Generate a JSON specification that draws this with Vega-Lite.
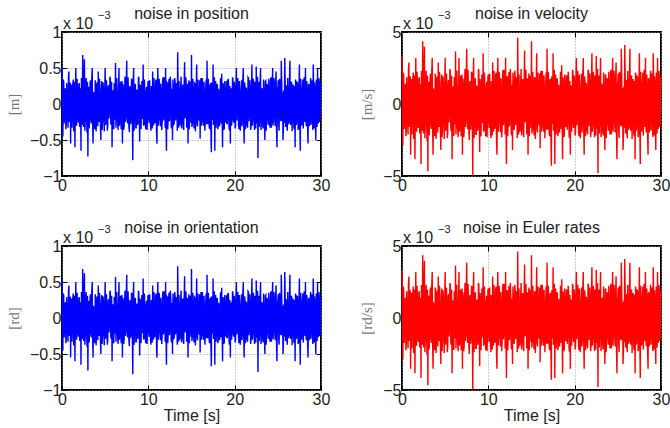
{
"$schema": "https://vega.github.io/schema/vega-lite/v6.json",
"padding": {"left": 5, "top": 5, "right": 5, "bottom": 5},
"background": "white",
"config": {
 "view": {"stroke": "black", "strokeWidth": 2},
 "title": {"font": "Liberation Sans", "fontSize": 16, "fontWeight": "normal", "color": "#222", "offset": -12},
 "axis": {"domain": false, "tickSize": -5, "tickColor": "black", "tickWidth": 1, "labelFont": "Liberation Sans", "labelFontSize": 16, "labelColor": "#222", "labelPadding": 6, "labelFlush": false, "gridDash": [1, 2], "gridColor": "#999", "gridWidth": 1},
 "axisY": {"titleFont": "Liberation Serif", "titleFontSize": 15, "titleFontWeight": "normal", "titleColor": "#777", "titlePadding": 8},
 "axisX": {"titleFont": "Liberation Sans", "titleFontSize": 16, "titleFontWeight": "normal", "titleColor": "#222", "titlePadding": 0}
},
"data": {"values": [
{"t":0,"p":0.52,"v":3.33},{"t":0.1,"p":-0.45,"v":-2.88},{"t":0.2,"p":0.31,"v":1.98},{"t":0.3,"p":-0.12,"v":-0.77},{"t":0.4,"p":0.22,"v":1.41},{"t":0.5,"p":-0.28,"v":-1.79},{"t":0.6,"p":0.08,"v":0.51},{"t":0.7,"p":-0.33,"v":-2.11},{"t":0.8,"p":0.45,"v":2.88},{"t":0.9,"p":-0.18,"v":-1.15},
{"t":1,"p":-0.55,"v":-3.52},{"t":1.1,"p":0.27,"v":1.73},{"t":1.2,"p":-0.09,"v":-0.58},{"t":1.3,"p":0.34,"v":2.18},{"t":1.4,"p":-0.22,"v":-1.41},{"t":1.5,"p":-0.6,"v":-3.84},{"t":1.6,"p":0.5,"v":3.2},{"t":1.7,"p":-0.3,"v":-1.92},{"t":1.8,"p":0.15,"v":0.96},{"t":1.9,"p":-0.26,"v":-1.66},
{"t":2,"p":0.29,"v":1.86},{"t":2.1,"p":-0.07,"v":-0.45},{"t":2.2,"p":-0.65,"v":-4.16},{"t":2.3,"p":0.18,"v":1.15},{"t":2.4,"p":0.68,"v":4.35},{"t":2.5,"p":-0.32,"v":-2.05},{"t":2.6,"p":0.62,"v":3.97},{"t":2.7,"p":-0.21,"v":-1.34},{"t":2.8,"p":0.36,"v":2.3},{"t":2.9,"p":-0.4,"v":-2.56},
{"t":3,"p":-0.73,"v":-4.67},{"t":3.1,"p":0.24,"v":1.54},{"t":3.2,"p":-0.14,"v":-0.9},{"t":3.3,"p":0.33,"v":2.11},{"t":3.4,"p":-0.27,"v":-1.73},{"t":3.5,"p":0.5,"v":3.2},{"t":3.6,"p":-0.55,"v":-3.52},{"t":3.7,"p":0.11,"v":0.7},{"t":3.8,"p":-0.35,"v":-2.24},{"t":3.9,"p":0.28,"v":1.79},
{"t":4,"p":-0.19,"v":-1.22},{"t":4.1,"p":0.3,"v":1.92},{"t":4.2,"p":0.45,"v":2.88},{"t":4.3,"p":-0.25,"v":-1.6},{"t":4.4,"p":0.06,"v":0.38},{"t":4.5,"p":-0.5,"v":-3.2},{"t":4.6,"p":0.32,"v":2.05},{"t":4.7,"p":-0.16,"v":-1.02},{"t":4.8,"p":0.21,"v":1.34},{"t":4.9,"p":-0.38,"v":-2.43},
{"t":5,"p":0.5,"v":3.2},{"t":5.1,"p":-0.23,"v":-1.47},{"t":5.2,"p":0.14,"v":0.9},{"t":5.3,"p":-0.31,"v":-1.98},{"t":5.4,"p":0.26,"v":1.66},{"t":5.5,"p":-0.08,"v":-0.51},{"t":5.6,"p":0.35,"v":2.24},{"t":5.7,"p":-0.29,"v":-1.86},{"t":5.8,"p":-0.6,"v":-3.84},{"t":5.9,"p":0.19,"v":1.22},
{"t":6,"p":-0.34,"v":-2.18},{"t":6.1,"p":0.27,"v":1.73},{"t":6.2,"p":0.57,"v":3.65},{"t":6.3,"p":-0.17,"v":-1.09},{"t":6.4,"p":0.09,"v":0.58},{"t":6.5,"p":-0.36,"v":-2.3},{"t":6.6,"p":0.5,"v":3.2},{"t":6.7,"p":-0.24,"v":-1.54},{"t":6.8,"p":0.31,"v":1.98},{"t":6.9,"p":-0.12,"v":-0.77},
{"t":7,"p":-0.55,"v":-3.52},{"t":7.1,"p":0.22,"v":1.41},{"t":7.2,"p":-0.3,"v":-1.92},{"t":7.3,"p":0.38,"v":2.43},{"t":7.4,"p":-0.15,"v":-0.96},{"t":7.5,"p":0.6,"v":3.84},{"t":7.6,"p":-0.27,"v":-1.73},{"t":7.7,"p":0.13,"v":0.83},{"t":7.8,"p":-0.39,"v":-2.5},{"t":7.9,"p":0.25,"v":1.6},
{"t":8,"p":-0.21,"v":-1.34},{"t":8.1,"p":0.33,"v":2.11},{"t":8.2,"p":-0.78,"v":-4.99},{"t":8.3,"p":0.5,"v":3.2},{"t":8.4,"p":-0.1,"v":-0.64},{"t":8.5,"p":0.28,"v":1.79},{"t":8.6,"p":-0.33,"v":-2.11},{"t":8.7,"p":0.17,"v":1.09},{"t":8.8,"p":-0.26,"v":-1.66},{"t":8.9,"p":0.36,"v":2.3},
{"t":9,"p":-0.52,"v":-3.33},{"t":9.1,"p":0.2,"v":1.28},{"t":9.2,"p":-0.13,"v":-0.83},{"t":9.3,"p":0.3,"v":1.92},{"t":9.4,"p":0.55,"v":3.52},{"t":9.5,"p":-0.28,"v":-1.79},{"t":9.6,"p":0.07,"v":0.45},{"t":9.7,"p":-0.35,"v":-2.24},{"t":9.8,"p":0.24,"v":1.54},{"t":9.9,"p":-0.19,"v":-1.22},
{"t":10,"p":0.32,"v":2.05},{"t":10.1,"p":-0.26,"v":-1.66},{"t":10.2,"p":0.12,"v":0.77},{"t":10.3,"p":-0.37,"v":-2.37},{"t":10.4,"p":0.21,"v":1.34},{"t":10.5,"p":0.45,"v":2.88},{"t":10.6,"p":-0.3,"v":-1.92},{"t":10.7,"p":0.16,"v":1.02},{"t":10.8,"p":-0.22,"v":-1.41},{"t":10.9,"p":0.34,"v":2.18},
{"t":11,"p":-0.55,"v":-3.52},{"t":11.1,"p":0.5,"v":3.2},{"t":11.2,"p":-0.18,"v":-1.15},{"t":11.3,"p":0.27,"v":1.73},{"t":11.4,"p":-0.31,"v":-1.98},{"t":11.5,"p":0.09,"v":0.58},{"t":11.6,"p":-0.25,"v":-1.6},{"t":11.7,"p":0.37,"v":2.37},{"t":11.8,"p":-0.14,"v":-0.9},{"t":11.9,"p":0.23,"v":1.47},
{"t":12,"p":0.5,"v":3.2},{"t":12.1,"p":-0.65,"v":-4.16},{"t":12.2,"p":0.29,"v":1.86},{"t":12.3,"p":-0.2,"v":-1.28},{"t":12.4,"p":0.35,"v":2.24},{"t":12.5,"p":-0.11,"v":-0.7},{"t":12.6,"p":0.26,"v":1.66},{"t":12.7,"p":-0.34,"v":-2.18},{"t":12.8,"p":-0.5,"v":-3.2},{"t":12.9,"p":0.18,"v":1.15},
{"t":13,"p":-0.27,"v":-1.73},{"t":13.1,"p":0.31,"v":1.98},{"t":13.2,"p":-0.16,"v":-1.02},{"t":13.3,"p":0.24,"v":1.54},{"t":13.4,"p":0.72,"v":4.61},{"t":13.5,"p":-0.33,"v":-2.11},{"t":13.6,"p":0.1,"v":0.64},{"t":13.7,"p":-0.24,"v":-1.54},{"t":13.8,"p":0.38,"v":2.43},{"t":13.9,"p":-0.21,"v":-1.34},
{"t":14,"p":0.27,"v":1.73},{"t":14.1,"p":-0.36,"v":-2.3},{"t":14.2,"p":0.58,"v":3.71},{"t":14.3,"p":-0.13,"v":-0.83},{"t":14.4,"p":0.22,"v":1.41},{"t":14.5,"p":-0.29,"v":-1.86},{"t":14.6,"p":-0.55,"v":-3.52},{"t":14.7,"p":0.33,"v":2.11},{"t":14.8,"p":-0.08,"v":-0.51},{"t":14.9,"p":0.3,"v":1.92},
{"t":15,"p":0.68,"v":4.35},{"t":15.1,"p":-0.26,"v":-1.66},{"t":15.2,"p":0.15,"v":0.96},{"t":15.3,"p":-0.34,"v":-2.18},{"t":15.4,"p":0.28,"v":1.79},{"t":15.5,"p":-0.19,"v":-1.22},{"t":15.6,"p":0.55,"v":3.52},{"t":15.7,"p":-0.31,"v":-1.98},{"t":15.8,"p":0.12,"v":0.77},{"t":15.9,"p":-0.23,"v":-1.47},
{"t":16,"p":-0.48,"v":-3.07},{"t":16.1,"p":0.36,"v":2.3},{"t":16.2,"p":-0.17,"v":-1.09},{"t":16.3,"p":0.25,"v":1.6},{"t":16.4,"p":-0.3,"v":-1.92},{"t":16.5,"p":0.08,"v":0.51},{"t":16.6,"p":-0.22,"v":-1.41},{"t":16.7,"p":0.34,"v":2.18},{"t":16.8,"p":0.6,"v":3.84},{"t":16.9,"p":-0.28,"v":-1.79},
{"t":17,"p":0.19,"v":1.22},{"t":17.1,"p":-0.35,"v":-2.24},{"t":17.2,"p":0.27,"v":1.73},{"t":17.3,"p":-0.67,"v":-4.29},{"t":17.4,"p":0.13,"v":0.83},{"t":17.5,"p":0.55,"v":3.52},{"t":17.6,"p":-0.24,"v":-1.54},{"t":17.7,"p":-0.65,"v":-4.16},{"t":17.8,"p":0.32,"v":2.05},{"t":17.9,"p":-0.15,"v":-0.96},
{"t":18,"p":0.26,"v":1.66},{"t":18.1,"p":-0.3,"v":-1.92},{"t":18.2,"p":0.1,"v":0.64},{"t":18.3,"p":-0.21,"v":-1.34},{"t":18.4,"p":0.35,"v":2.24},{"t":18.5,"p":0.42,"v":2.69},{"t":18.6,"p":-0.6,"v":-3.84},{"t":18.7,"p":0.23,"v":1.47},{"t":18.8,"p":-0.33,"v":-2.11},{"t":18.9,"p":0.16,"v":1.02},
{"t":19,"p":-0.25,"v":-1.6},{"t":19.1,"p":0.31,"v":1.98},{"t":19.2,"p":-0.12,"v":-0.77},{"t":19.3,"p":0.28,"v":1.79},{"t":19.4,"p":-0.37,"v":-2.37},{"t":19.5,"p":-0.55,"v":-3.52},{"t":19.6,"p":0.2,"v":1.28},{"t":19.7,"p":-0.17,"v":-1.09},{"t":19.8,"p":0.34,"v":2.18},{"t":19.9,"p":-0.26,"v":-1.66},
{"t":20,"p":0.22,"v":1.41},{"t":20.1,"p":-0.31,"v":-1.98},{"t":20.2,"p":0.5,"v":3.2},{"t":20.3,"p":-0.14,"v":-0.9},{"t":20.4,"p":0.27,"v":1.73},{"t":20.5,"p":-0.35,"v":-2.24},{"t":20.6,"p":0.09,"v":0.58},{"t":20.7,"p":-0.23,"v":-1.47},{"t":20.8,"p":0.33,"v":2.11},{"t":20.9,"p":-0.19,"v":-1.22},
{"t":21,"p":0.5,"v":3.2},{"t":21.1,"p":-0.55,"v":-3.52},{"t":21.2,"p":0.24,"v":1.54},{"t":21.3,"p":-0.28,"v":-1.79},{"t":21.4,"p":0.14,"v":0.9},{"t":21.5,"p":-0.33,"v":-2.11},{"t":21.6,"p":0.36,"v":2.3},{"t":21.7,"p":-0.11,"v":-0.7},{"t":21.8,"p":0.21,"v":1.34},{"t":21.9,"p":-0.3,"v":-1.92},
{"t":22,"p":0.55,"v":3.52},{"t":22.1,"p":-0.2,"v":-1.28},{"t":22.2,"p":0.29,"v":1.86},{"t":22.3,"p":-0.36,"v":-2.3},{"t":22.4,"p":0.17,"v":1.09},{"t":22.5,"p":0.52,"v":3.33},{"t":22.6,"p":-0.25,"v":-1.6},{"t":22.7,"p":-0.75,"v":-4.8},{"t":22.8,"p":0.31,"v":1.98},{"t":22.9,"p":-0.13,"v":-0.83},
{"t":23,"p":0.5,"v":3.2},{"t":23.1,"p":-0.27,"v":-1.73},{"t":23.2,"p":0.2,"v":1.28},{"t":23.3,"p":-0.34,"v":-2.18},{"t":23.4,"p":0.11,"v":0.7},{"t":23.5,"p":-0.5,"v":-3.2},{"t":23.6,"p":0.32,"v":2.05},{"t":23.7,"p":-0.18,"v":-1.15},{"t":23.8,"p":0.26,"v":1.66},{"t":23.9,"p":-0.29,"v":-1.86},
{"t":24,"p":0.15,"v":0.96},{"t":24.1,"p":-0.33,"v":-2.11},{"t":24.2,"p":0.37,"v":2.37},{"t":24.3,"p":-0.21,"v":-1.34},{"t":24.4,"p":0.5,"v":3.2},{"t":24.5,"p":-0.12,"v":-0.77},{"t":24.6,"p":0.28,"v":1.79},{"t":24.7,"p":-0.31,"v":-1.98},{"t":24.8,"p":0.45,"v":2.88},{"t":24.9,"p":-0.6,"v":-3.84},
{"t":25,"p":0.23,"v":1.47},{"t":25.1,"p":-0.28,"v":-1.79},{"t":25.2,"p":0.35,"v":2.24},{"t":25.3,"p":-0.16,"v":-1.02},{"t":25.4,"p":0.6,"v":3.84},{"t":25.5,"p":-0.24,"v":-1.54},{"t":25.6,"p":-0.5,"v":-3.2},{"t":25.7,"p":0.19,"v":1.22},{"t":25.8,"p":0.64,"v":4.1},{"t":25.9,"p":-0.32,"v":-2.05},
{"t":26,"p":0.26,"v":1.66},{"t":26.1,"p":-0.37,"v":-2.37},{"t":26.2,"p":0.13,"v":0.83},{"t":26.3,"p":-0.22,"v":-1.41},{"t":26.4,"p":0.6,"v":3.84},{"t":26.5,"p":-0.29,"v":-1.86},{"t":26.6,"p":0.31,"v":1.98},{"t":26.7,"p":-0.09,"v":-0.58},{"t":26.8,"p":0.24,"v":1.54},{"t":26.9,"p":-0.35,"v":-2.24},
{"t":27,"p":-0.6,"v":-3.84},{"t":27.1,"p":0.3,"v":1.92},{"t":27.2,"p":-0.18,"v":-1.15},{"t":27.3,"p":0.27,"v":1.73},{"t":27.4,"p":-0.33,"v":-2.11},{"t":27.5,"p":0.55,"v":3.52},{"t":27.6,"p":-0.65,"v":-4.16},{"t":27.7,"p":0.21,"v":1.34},{"t":27.8,"p":-0.26,"v":-1.66},{"t":27.9,"p":0.34,"v":2.18},
{"t":28,"p":-0.14,"v":-0.9},{"t":28.1,"p":0.29,"v":1.86},{"t":28.2,"p":0.5,"v":3.2},{"t":28.3,"p":-0.31,"v":-1.98},{"t":28.4,"p":0.17,"v":1.09},{"t":28.5,"p":-0.55,"v":-3.52},{"t":28.6,"p":0.25,"v":1.6},{"t":28.7,"p":-0.22,"v":-1.41},{"t":28.8,"p":0.36,"v":2.3},{"t":28.9,"p":-0.1,"v":-0.64},
{"t":29,"p":0.28,"v":1.79},{"t":29.1,"p":0.55,"v":3.52},{"t":29.2,"p":-0.34,"v":-2.18},{"t":29.3,"p":0.19,"v":1.22},{"t":29.4,"p":-0.5,"v":-3.2},{"t":29.5,"p":0.23,"v":1.47},{"t":29.6,"p":0.5,"v":3.2},{"t":29.7,"p":-0.27,"v":-1.73},{"t":29.8,"p":0.31,"v":1.98},{"t":29.9,"p":-0.2,"v":-1.28},
{"t":30,"p":0.3,"v":1.92},
{"t":0.05,"p":-0.21,"v":-1.34},{"t":0.15,"p":0.34,"v":2.18},{"t":0.25,"p":-0.27,"v":-1.73},{"t":0.35,"p":0.18,"v":1.15},{"t":0.45,"p":-0.35,"v":-2.24},{"t":0.55,"p":0.29,"v":1.86},{"t":0.65,"p":-0.16,"v":-1.02},{"t":0.75,"p":0.37,"v":2.37},{"t":0.85,"p":-0.25,"v":-1.6},{"t":0.95,"p":0.3,"v":1.92},
{"t":1.05,"p":0.19,"v":1.22},{"t":1.15,"p":-0.33,"v":-2.11},{"t":1.25,"p":0.26,"v":1.66},{"t":1.35,"p":-0.38,"v":-2.43},{"t":1.45,"p":0.31,"v":1.98},{"t":1.55,"p":0.14,"v":0.9},{"t":1.65,"p":-0.28,"v":-1.79},{"t":1.75,"p":0.35,"v":2.24},{"t":1.85,"p":-0.2,"v":-1.28},{"t":1.95,"p":0.27,"v":1.73},
{"t":2.05,"p":-0.32,"v":-2.05},{"t":2.15,"p":0.22,"v":1.41},{"t":2.25,"p":0.36,"v":2.3},{"t":2.35,"p":-0.29,"v":-1.86},{"t":2.45,"p":-0.15,"v":-0.96},{"t":2.55,"p":0.33,"v":2.11},{"t":2.65,"p":-0.37,"v":-2.37},{"t":2.75,"p":0.25,"v":1.6},{"t":2.85,"p":-0.18,"v":-1.15},{"t":2.95,"p":0.31,"v":1.98},
{"t":3.05,"p":0.2,"v":1.28},{"t":3.15,"p":-0.34,"v":-2.18},{"t":3.25,"p":0.28,"v":1.79},{"t":3.35,"p":-0.23,"v":-1.47},{"t":3.45,"p":0.36,"v":2.3},{"t":3.55,"p":-0.3,"v":-1.92},{"t":3.65,"p":0.17,"v":1.09},{"t":3.75,"p":-0.27,"v":-1.73},{"t":3.85,"p":0.33,"v":2.11},{"t":3.95,"p":-0.38,"v":-2.43},
{"t":4.05,"p":0.26,"v":1.66},{"t":4.15,"p":-0.31,"v":-1.98},{"t":4.25,"p":-0.14,"v":-0.9},{"t":4.35,"p":0.35,"v":2.24},{"t":4.45,"p":-0.28,"v":-1.79},{"t":4.55,"p":0.22,"v":1.41},{"t":4.65,"p":-0.36,"v":-2.3},{"t":4.75,"p":0.3,"v":1.92},{"t":4.85,"p":-0.24,"v":-1.54},{"t":4.95,"p":0.19,"v":1.22},
{"t":5.05,"p":-0.29,"v":-1.86},{"t":5.15,"p":0.33,"v":2.11},{"t":5.25,"p":-0.37,"v":-2.37},{"t":5.35,"p":0.24,"v":1.54},{"t":5.45,"p":-0.2,"v":-1.28},{"t":5.55,"p":0.38,"v":2.43},{"t":5.65,"p":-0.26,"v":-1.66},{"t":5.75,"p":0.31,"v":1.98},{"t":5.85,"p":0.15,"v":0.96},{"t":5.95,"p":-0.34,"v":-2.18},
{"t":6.05,"p":0.29,"v":1.86},{"t":6.15,"p":-0.22,"v":-1.41},{"t":6.25,"p":-0.33,"v":-2.11},{"t":6.35,"p":0.36,"v":2.3},{"t":6.45,"p":-0.27,"v":-1.73},{"t":6.55,"p":0.18,"v":1.15},{"t":6.65,"p":-0.3,"v":-1.92},{"t":6.75,"p":0.25,"v":1.6},{"t":6.85,"p":-0.35,"v":-2.24},{"t":6.95,"p":0.32,"v":2.05},
{"t":7.05,"p":0.28,"v":1.79},{"t":7.15,"p":-0.36,"v":-2.3},{"t":7.25,"p":0.21,"v":1.34},{"t":7.35,"p":-0.25,"v":-1.6},{"t":7.45,"p":0.34,"v":2.18},{"t":7.55,"p":-0.19,"v":-1.22},{"t":7.65,"p":0.37,"v":2.37},{"t":7.75,"p":-0.31,"v":-1.98},{"t":7.85,"p":0.23,"v":1.47},{"t":7.95,"p":-0.28,"v":-1.79},
{"t":8.05,"p":0.35,"v":2.24},{"t":8.15,"p":-0.24,"v":-1.54},{"t":8.25,"p":0.3,"v":1.92},{"t":8.35,"p":-0.37,"v":-2.37},{"t":8.45,"p":0.26,"v":1.66},{"t":8.55,"p":-0.33,"v":-2.11},{"t":8.65,"p":0.2,"v":1.28},{"t":8.75,"p":-0.29,"v":-1.86},{"t":8.85,"p":0.38,"v":2.43},{"t":8.95,"p":-0.17,"v":-1.09},
{"t":9.05,"p":0.27,"v":1.73},{"t":9.15,"p":-0.35,"v":-2.24},{"t":9.25,"p":0.32,"v":2.05},{"t":9.35,"p":-0.21,"v":-1.34},{"t":9.45,"p":-0.3,"v":-1.92},{"t":9.55,"p":0.34,"v":2.18},{"t":9.65,"p":-0.26,"v":-1.66},{"t":9.75,"p":0.19,"v":1.22},{"t":9.85,"p":-0.36,"v":-2.3},{"t":9.95,"p":0.29,"v":1.86},
{"t":10.05,"p":-0.18,"v":-1.15},{"t":10.15,"p":0.33,"v":2.11},{"t":10.25,"p":-0.29,"v":-1.86},{"t":10.35,"p":0.25,"v":1.6},{"t":10.45,"p":-0.34,"v":-2.18},{"t":10.55,"p":-0.22,"v":-1.41},{"t":10.65,"p":0.36,"v":2.3},{"t":10.75,"p":-0.27,"v":-1.73},{"t":10.85,"p":0.31,"v":1.98},{"t":10.95,"p":-0.39,"v":-2.5},
{"t":11.05,"p":0.24,"v":1.54},{"t":11.15,"p":-0.3,"v":-1.92},{"t":11.25,"p":0.35,"v":2.24},{"t":11.35,"p":-0.2,"v":-1.28},{"t":11.45,"p":0.28,"v":1.79},{"t":11.55,"p":-0.36,"v":-2.3},{"t":11.65,"p":0.32,"v":2.05},{"t":11.75,"p":-0.23,"v":-1.47},{"t":11.85,"p":0.37,"v":2.37},{"t":11.95,"p":-0.33,"v":-2.11},
{"t":12.05,"p":-0.26,"v":-1.66},{"t":12.15,"p":0.3,"v":1.92},{"t":12.25,"p":-0.35,"v":-2.24},{"t":12.35,"p":0.27,"v":1.73},{"t":12.45,"p":-0.24,"v":-1.54},{"t":12.55,"p":0.38,"v":2.43},{"t":12.65,"p":-0.31,"v":-1.98},{"t":12.75,"p":0.21,"v":1.34},{"t":12.85,"p":0.34,"v":2.18},{"t":12.95,"p":-0.28,"v":-1.79},
{"t":13.05,"p":0.36,"v":2.3},{"t":13.15,"p":-0.23,"v":-1.47},{"t":13.25,"p":0.29,"v":1.86},{"t":13.35,"p":-0.37,"v":-2.37},{"t":13.45,"p":0.16,"v":1.02},{"t":13.55,"p":0.32,"v":2.05},{"t":13.65,"p":-0.3,"v":-1.92},{"t":13.75,"p":0.26,"v":1.66},{"t":13.85,"p":-0.34,"v":-2.18},{"t":13.95,"p":0.22,"v":1.41},
{"t":14.05,"p":-0.31,"v":-1.98},{"t":14.15,"p":0.25,"v":1.6},{"t":14.25,"p":-0.2,"v":-1.28},{"t":14.35,"p":0.37,"v":2.37},{"t":14.45,"p":-0.33,"v":-2.11},{"t":14.55,"p":0.28,"v":1.79},{"t":14.65,"p":0.18,"v":1.15},{"t":14.75,"p":-0.35,"v":-2.24},{"t":14.85,"p":0.3,"v":1.92},{"t":14.95,"p":-0.26,"v":-1.66},
{"t":15.05,"p":-0.32,"v":-2.05},{"t":15.15,"p":0.35,"v":2.24},{"t":15.25,"p":-0.24,"v":-1.54},{"t":15.35,"p":0.29,"v":1.86},{"t":15.45,"p":-0.38,"v":-2.43},{"t":15.55,"p":0.21,"v":1.34},{"t":15.65,"p":-0.27,"v":-1.73},{"t":15.75,"p":0.34,"v":2.18},{"t":15.85,"p":-0.19,"v":-1.22},{"t":15.95,"p":0.33,"v":2.11},
{"t":16.05,"p":0.27,"v":1.73},{"t":16.15,"p":-0.3,"v":-1.92},{"t":16.25,"p":0.36,"v":2.3},{"t":16.35,"p":-0.25,"v":-1.6},{"t":16.45,"p":0.31,"v":1.98},{"t":16.55,"p":-0.37,"v":-2.37},{"t":16.65,"p":0.23,"v":1.47},{"t":16.75,"p":-0.28,"v":-1.79},{"t":16.85,"p":-0.2,"v":-1.28},{"t":16.95,"p":0.35,"v":2.24},
{"t":17.05,"p":-0.32,"v":-2.05},{"t":17.15,"p":0.26,"v":1.66},{"t":17.25,"p":-0.36,"v":-2.3},{"t":17.35,"p":0.3,"v":1.92},{"t":17.45,"p":-0.22,"v":-1.41},{"t":17.55,"p":-0.29,"v":-1.86},{"t":17.65,"p":0.37,"v":2.37},{"t":17.75,"p":0.24,"v":1.54},{"t":17.85,"p":-0.33,"v":-2.11},{"t":17.95,"p":0.28,"v":1.79},
{"t":18.05,"p":-0.35,"v":-2.24},{"t":18.15,"p":0.21,"v":1.34},{"t":18.25,"p":-0.31,"v":-1.98},{"t":18.35,"p":0.34,"v":2.18},{"t":18.45,"p":-0.27,"v":-1.73},{"t":18.55,"p":-0.18,"v":-1.15},{"t":18.65,"p":0.29,"v":1.86},{"t":18.75,"p":-0.36,"v":-2.3},{"t":18.85,"p":0.32,"v":2.05},{"t":18.95,"p":-0.24,"v":-1.54},
{"t":19.05,"p":0.3,"v":1.92},{"t":19.15,"p":-0.28,"v":-1.79},{"t":19.25,"p":0.35,"v":2.24},{"t":19.35,"p":-0.33,"v":-2.11},{"t":19.45,"p":0.25,"v":1.6},{"t":19.55,"p":0.19,"v":1.22},{"t":19.65,"p":-0.3,"v":-1.92},{"t":19.75,"p":0.37,"v":2.37},{"t":19.85,"p":-0.22,"v":-1.41},{"t":19.95,"p":0.31,"v":1.98},
{"t":20.05,"p":-0.34,"v":-2.18},{"t":20.15,"p":0.27,"v":1.73},{"t":20.25,"p":-0.23,"v":-1.47},{"t":20.35,"p":0.36,"v":2.3},{"t":20.45,"p":-0.29,"v":-1.86},{"t":20.55,"p":0.32,"v":2.05},{"t":20.65,"p":-0.37,"v":-2.37},{"t":20.75,"p":0.2,"v":1.28},{"t":20.85,"p":-0.31,"v":-1.98},{"t":20.95,"p":0.34,"v":2.18},
{"t":21.05,"p":-0.26,"v":-1.66},{"t":21.15,"p":0.3,"v":1.92},{"t":21.25,"p":-0.35,"v":-2.24},{"t":21.35,"p":0.23,"v":1.47},{"t":21.45,"p":-0.28,"v":-1.79},{"t":21.55,"p":0.37,"v":2.37},{"t":21.65,"p":-0.24,"v":-1.54},{"t":21.75,"p":0.33,"v":2.11},{"t":21.85,"p":-0.36,"v":-2.3},{"t":21.95,"p":0.27,"v":1.73},
{"t":22.05,"p":-0.3,"v":-1.92},{"t":22.15,"p":0.35,"v":2.24},{"t":22.25,"p":-0.21,"v":-1.34},{"t":22.35,"p":0.31,"v":1.98},{"t":22.45,"p":-0.34,"v":-2.18},{"t":22.55,"p":-0.27,"v":-1.73},{"t":22.65,"p":0.38,"v":2.43},{"t":22.75,"p":0.24,"v":1.54},{"t":22.85,"p":-0.32,"v":-2.05},{"t":22.95,"p":0.29,"v":1.86},
{"t":23.05,"p":-0.36,"v":-2.3},{"t":23.15,"p":0.22,"v":1.41},{"t":23.25,"p":-0.29,"v":-1.86},{"t":23.35,"p":0.34,"v":2.18},{"t":23.45,"p":-0.25,"v":-1.6},{"t":23.55,"p":0.31,"v":1.98},{"t":23.65,"p":-0.37,"v":-2.37},{"t":23.75,"p":0.28,"v":1.79},{"t":23.85,"p":-0.2,"v":-1.28},{"t":23.95,"p":0.35,"v":2.24},
{"t":24.05,"p":-0.27,"v":-1.73},{"t":24.15,"p":0.32,"v":2.05},{"t":24.25,"p":-0.33,"v":-2.11},{"t":24.35,"p":0.26,"v":1.66},{"t":24.45,"p":-0.3,"v":-1.92},{"t":24.55,"p":0.36,"v":2.3},{"t":24.65,"p":-0.23,"v":-1.47},{"t":24.75,"p":0.29,"v":1.86},{"t":24.85,"p":-0.35,"v":-2.24},{"t":24.95,"p":0.21,"v":1.34},
{"t":25.05,"p":0.33,"v":2.11},{"t":25.15,"p":-0.37,"v":-2.37},{"t":25.25,"p":0.28,"v":1.79},{"t":25.35,"p":-0.24,"v":-1.54},{"t":25.45,"p":0.31,"v":1.98},{"t":25.55,"p":0.17,"v":1.09},{"t":25.65,"p":-0.34,"v":-2.18},{"t":25.75,"p":-0.26,"v":-1.66},{"t":25.85,"p":0.3,"v":1.92},{"t":25.95,"p":0.22,"v":1.41},
{"t":26.05,"p":-0.31,"v":-1.98},{"t":26.15,"p":0.36,"v":2.3},{"t":26.25,"p":-0.28,"v":-1.79},{"t":26.35,"p":0.33,"v":2.11},{"t":26.45,"p":-0.25,"v":-1.6},{"t":26.55,"p":0.29,"v":1.86},{"t":26.65,"p":-0.38,"v":-2.43},{"t":26.75,"p":0.27,"v":1.73},{"t":26.85,"p":-0.32,"v":-2.05},{"t":26.95,"p":0.25,"v":1.6},
{"t":27.05,"p":0.34,"v":2.18},{"t":27.15,"p":-0.29,"v":-1.86},{"t":27.25,"p":0.31,"v":1.98},{"t":27.35,"p":-0.36,"v":-2.3},{"t":27.45,"p":0.23,"v":1.47},{"t":27.55,"p":-0.27,"v":-1.73},{"t":27.65,"p":0.35,"v":2.24},{"t":27.75,"p":-0.3,"v":-1.92},{"t":27.85,"p":0.2,"v":1.28},{"t":27.95,"p":-0.34,"v":-2.18},
{"t":28.05,"p":0.37,"v":2.37},{"t":28.15,"p":-0.25,"v":-1.6},{"t":28.25,"p":-0.22,"v":-1.41},{"t":28.35,"p":0.32,"v":2.05},{"t":28.45,"p":-0.35,"v":-2.24},{"t":28.55,"p":0.28,"v":1.79},{"t":28.65,"p":-0.31,"v":-1.98},{"t":28.75,"p":0.26,"v":1.66},{"t":28.85,"p":-0.29,"v":-1.86},{"t":28.95,"p":0.33,"v":2.11},
{"t":29.05,"p":-0.36,"v":-2.3},{"t":29.15,"p":0.24,"v":1.54},{"t":29.25,"p":0.3,"v":1.92},{"t":29.35,"p":-0.28,"v":-1.79},{"t":29.45,"p":0.34,"v":2.18},{"t":29.55,"p":-0.32,"v":-2.05},{"t":29.65,"p":-0.21,"v":-1.34},{"t":29.75,"p":0.36,"v":2.3},{"t":29.85,"p":-0.25,"v":-1.6},{"t":29.95,"p":0.27,"v":1.73}
]},
"columns": 2,
"spacing": {"row": 70, "column": 81},
"bounds": "flush",
"concat": [
  {"width": 259, "height": 144, "title": "noise in position",
   "layer": [
    {"mark": {"type": "line", "color": "#0000ff", "strokeWidth": 1.4},
     "encoding": {
      "x": {"field": "t", "type": "quantitative", "scale": {"domain": [0, 30], "nice": false}, "axis": {"values": [0, 10, 20, 30], "title": null}},
      "y": {"field": "p", "type": "quantitative", "scale": {"domain": [-1, 1], "nice": false}, "axis": {"values": [-1, -0.5, 0, 0.5, 1], "format": ".1~f", "title": "[m]"}}}},
    {"data": {"values": [{"t": 0, "p": 1, "s": "x 10"}]},
     "mark": {"type": "text", "align": "left", "baseline": "alphabetic", "dx": 1, "dy": -3, "font": "Liberation Sans", "fontSize": 16, "color": "#222"},
     "encoding": {
      "x": {"field": "t", "type": "quantitative", "axis": {"orient": "top", "values": [10, 20], "labels": false, "grid": false, "title": null}},
      "y": {"field": "p", "type": "quantitative", "axis": {"orient": "right", "values": [-0.5, 0, 0.5], "labels": false, "grid": false, "title": null}},
      "text": {"field": "s"}}},
    {"data": {"values": [{"t": 0, "p": 1, "s": "−3"}]},
     "mark": {"type": "text", "align": "left", "baseline": "alphabetic", "dx": 36, "dy": -13, "font": "Liberation Sans", "fontSize": 11, "color": "#222"},
     "encoding": {
      "x": {"field": "t", "type": "quantitative", "axis": null},
      "y": {"field": "p", "type": "quantitative", "axis": null},
      "text": {"field": "s"}}}
   ],
   "resolve": {"axis": {"x": "independent", "y": "independent"}}},
  {"width": 259, "height": 144, "title": "noise in velocity",
   "layer": [
    {"mark": {"type": "line", "color": "#ff0000", "strokeWidth": 1.4},
     "encoding": {
      "x": {"field": "t", "type": "quantitative", "scale": {"domain": [0, 30], "nice": false}, "axis": {"values": [0, 10, 20, 30], "title": null}},
      "y": {"field": "v", "type": "quantitative", "scale": {"domain": [-5, 5], "nice": false}, "axis": {"values": [-5, 0, 5], "format": "~g", "title": "[m/s]"}}}},
    {"data": {"values": [{"t": 0, "v": 5, "s": "x 10"}]},
     "mark": {"type": "text", "align": "left", "baseline": "alphabetic", "dx": 1, "dy": -3, "font": "Liberation Sans", "fontSize": 16, "color": "#222"},
     "encoding": {
      "x": {"field": "t", "type": "quantitative", "axis": {"orient": "top", "values": [10, 20], "labels": false, "grid": false, "title": null}},
      "y": {"field": "v", "type": "quantitative", "axis": {"orient": "right", "values": [0], "labels": false, "grid": false, "title": null}},
      "text": {"field": "s"}}},
    {"data": {"values": [{"t": 0, "v": 5, "s": "−3"}]},
     "mark": {"type": "text", "align": "left", "baseline": "alphabetic", "dx": 36, "dy": -13, "font": "Liberation Sans", "fontSize": 11, "color": "#222"},
     "encoding": {
      "x": {"field": "t", "type": "quantitative", "axis": null},
      "y": {"field": "v", "type": "quantitative", "axis": null},
      "text": {"field": "s"}}}
   ],
   "resolve": {"axis": {"x": "independent", "y": "independent"}}},
  {"width": 259, "height": 144, "title": "noise in orientation",
   "layer": [
    {"mark": {"type": "line", "color": "#0000ff", "strokeWidth": 1.4},
     "encoding": {
      "x": {"field": "t", "type": "quantitative", "scale": {"domain": [0, 30], "nice": false}, "axis": {"values": [0, 10, 20, 30], "title": "Time [s]"}},
      "y": {"field": "p", "type": "quantitative", "scale": {"domain": [-1, 1], "nice": false}, "axis": {"values": [-1, -0.5, 0, 0.5, 1], "format": ".1~f", "title": "[rd]"}}}},
    {"data": {"values": [{"t": 0, "p": 1, "s": "x 10"}]},
     "mark": {"type": "text", "align": "left", "baseline": "alphabetic", "dx": 1, "dy": -3, "font": "Liberation Sans", "fontSize": 16, "color": "#222"},
     "encoding": {
      "x": {"field": "t", "type": "quantitative", "axis": {"orient": "top", "values": [10, 20], "labels": false, "grid": false, "title": null}},
      "y": {"field": "p", "type": "quantitative", "axis": {"orient": "right", "values": [-0.5, 0, 0.5], "labels": false, "grid": false, "title": null}},
      "text": {"field": "s"}}},
    {"data": {"values": [{"t": 0, "p": 1, "s": "−3"}]},
     "mark": {"type": "text", "align": "left", "baseline": "alphabetic", "dx": 36, "dy": -13, "font": "Liberation Sans", "fontSize": 11, "color": "#222"},
     "encoding": {
      "x": {"field": "t", "type": "quantitative", "axis": null},
      "y": {"field": "p", "type": "quantitative", "axis": null},
      "text": {"field": "s"}}}
   ],
   "resolve": {"axis": {"x": "independent", "y": "independent"}}},
  {"width": 259, "height": 144, "title": "noise in Euler rates",
   "layer": [
    {"mark": {"type": "line", "color": "#ff0000", "strokeWidth": 1.4},
     "encoding": {
      "x": {"field": "t", "type": "quantitative", "scale": {"domain": [0, 30], "nice": false}, "axis": {"values": [0, 10, 20, 30], "title": "Time [s]"}},
      "y": {"field": "v", "type": "quantitative", "scale": {"domain": [-5, 5], "nice": false}, "axis": {"values": [-5, 0, 5], "format": "~g", "title": "[rd/s]"}}}},
    {"data": {"values": [{"t": 0, "v": 5, "s": "x 10"}]},
     "mark": {"type": "text", "align": "left", "baseline": "alphabetic", "dx": 1, "dy": -3, "font": "Liberation Sans", "fontSize": 16, "color": "#222"},
     "encoding": {
      "x": {"field": "t", "type": "quantitative", "axis": {"orient": "top", "values": [10, 20], "labels": false, "grid": false, "title": null}},
      "y": {"field": "v", "type": "quantitative", "axis": {"orient": "right", "values": [0], "labels": false, "grid": false, "title": null}},
      "text": {"field": "s"}}},
    {"data": {"values": [{"t": 0, "v": 5, "s": "−3"}]},
     "mark": {"type": "text", "align": "left", "baseline": "alphabetic", "dx": 36, "dy": -13, "font": "Liberation Sans", "fontSize": 11, "color": "#222"},
     "encoding": {
      "x": {"field": "t", "type": "quantitative", "axis": null},
      "y": {"field": "v", "type": "quantitative", "axis": null},
      "text": {"field": "s"}}}
   ],
   "resolve": {"axis": {"x": "independent", "y": "independent"}}}
]
}
